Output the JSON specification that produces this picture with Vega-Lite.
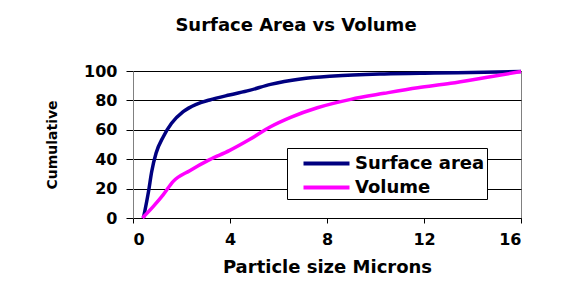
{
  "$schema": "https://vega.github.io/schema/vega-lite/v6.json",
  "width": 388,
  "height": 147,
  "autosize": {"type": "none"},
  "padding": {"left": 133, "top": 71, "right": 59, "bottom": 75},
  "background": "white",
  "title": {
    "text": "Surface Area vs Volume",
    "font": "DejaVu Sans",
    "fontWeight": "bold",
    "fontSize": 18,
    "color": "black",
    "anchor": "middle",
    "dx": -31,
    "offset": 28
  },
  "config": {
    "view": {"stroke": "#808080", "strokeWidth": 1},
    "axis": {
      "labelFont": "DejaVu Sans",
      "labelFontWeight": "bold",
      "labelFontSize": 16,
      "labelColor": "black",
      "titleFont": "DejaVu Sans",
      "titleFontWeight": "bold",
      "titleColor": "black",
      "tickColor": "black",
      "domainColor": "black"
    }
  },
  "data": {
    "values": [
      {"size": 0.43, "cum": 0, "series": "Surface area"},
      {"size": 0.64, "cum": 18, "series": "Surface area"},
      {"size": 0.77, "cum": 31.5, "series": "Surface area"},
      {"size": 0.95, "cum": 44, "series": "Surface area"},
      {"size": 1.25, "cum": 55.3, "series": "Surface area"},
      {"size": 1.59, "cum": 64.4, "series": "Surface area"},
      {"size": 2.07, "cum": 72.3, "series": "Surface area"},
      {"size": 2.61, "cum": 77.3, "series": "Surface area"},
      {"size": 3.16, "cum": 80.3, "series": "Surface area"},
      {"size": 3.97, "cum": 83.7, "series": "Surface area"},
      {"size": 4.8, "cum": 86.8, "series": "Surface area"},
      {"size": 5.67, "cum": 90.9, "series": "Surface area"},
      {"size": 6.91, "cum": 94.6, "series": "Surface area"},
      {"size": 8.29, "cum": 96.6, "series": "Surface area"},
      {"size": 10.36, "cum": 98, "series": "Surface area"},
      {"size": 12.42, "cum": 98.6, "series": "Surface area"},
      {"size": 14.49, "cum": 99.1, "series": "Surface area"},
      {"size": 16, "cum": 99.6, "series": "Surface area"},
      {"size": 0.39, "cum": 0, "series": "Volume"},
      {"size": 0.84, "cum": 7.9, "series": "Volume"},
      {"size": 1.25, "cum": 15.9, "series": "Volume"},
      {"size": 1.66, "cum": 24.9, "series": "Volume"},
      {"size": 2.34, "cum": 32.2, "series": "Volume"},
      {"size": 3.16, "cum": 39.7, "series": "Volume"},
      {"size": 3.97, "cum": 45.8, "series": "Volume"},
      {"size": 4.82, "cum": 53.5, "series": "Volume"},
      {"size": 5.67, "cum": 62.1, "series": "Volume"},
      {"size": 6.5, "cum": 68.5, "series": "Volume"},
      {"size": 7.6, "cum": 75, "series": "Volume"},
      {"size": 8.98, "cum": 80.7, "series": "Volume"},
      {"size": 10.36, "cum": 84.8, "series": "Volume"},
      {"size": 11.74, "cum": 88.6, "series": "Volume"},
      {"size": 13.1, "cum": 91.6, "series": "Volume"},
      {"size": 14.49, "cum": 95.4, "series": "Volume"},
      {"size": 16, "cum": 99.6, "series": "Volume"}
    ]
  },
  "mark": {"type": "line", "interpolate": "monotone", "strokeWidth": 3.5, "clip": false},
  "encoding": {
    "x": {
      "field": "size",
      "type": "quantitative",
      "scale": {"domain": [0, 16], "nice": false},
      "axis": {
        "values": [0, 4, 8, 12, 16],
        "title": "Particle size Microns",
        "titleFontSize": 18,
        "titlePadding": 11,
        "grid": false,
        "tickSize": 5,
        "labelPadding": 8,
        "domainColor": "black"
      }
    },
    "y": {
      "field": "cum",
      "type": "quantitative",
      "scale": {"domain": [0, 100], "nice": false},
      "axis": {
        "values": [0, 20, 40, 60, 80, 100],
        "title": "Cumulative",
        "titleFontSize": 14,
        "titlePadding": 24,
        "grid": true,
        "gridColor": "black",
        "gridOpacity": 1,
        "gridWidth": 1,
        "tickSize": 7,
        "labelPadding": 9,
        "domainColor": "#808080"
      }
    },
    "color": {
      "field": "series",
      "type": "nominal",
      "scale": {"domain": ["Surface area", "Volume"], "range": ["#000080", "#FF00FF"]},
      "legend": {
        "orient": "none",
        "legendX": 154,
        "legendY": 77,
        "title": null,
        "symbolType": "M-2,0H2",
        "symbolSize": 529,
        "symbolStrokeWidth": 4,
        "symbolFillColor": "transparent",
        "symbolOffset": 24,
        "labelFont": "DejaVu Sans",
        "labelFontWeight": "bold",
        "labelFontSize": 18,
        "labelColor": "black",
        "labelOffset": 15,
        "strokeColor": "black",
        "fillColor": "white",
        "padding": 2,
        "rowPadding": 1
      }
    }
  }
}
